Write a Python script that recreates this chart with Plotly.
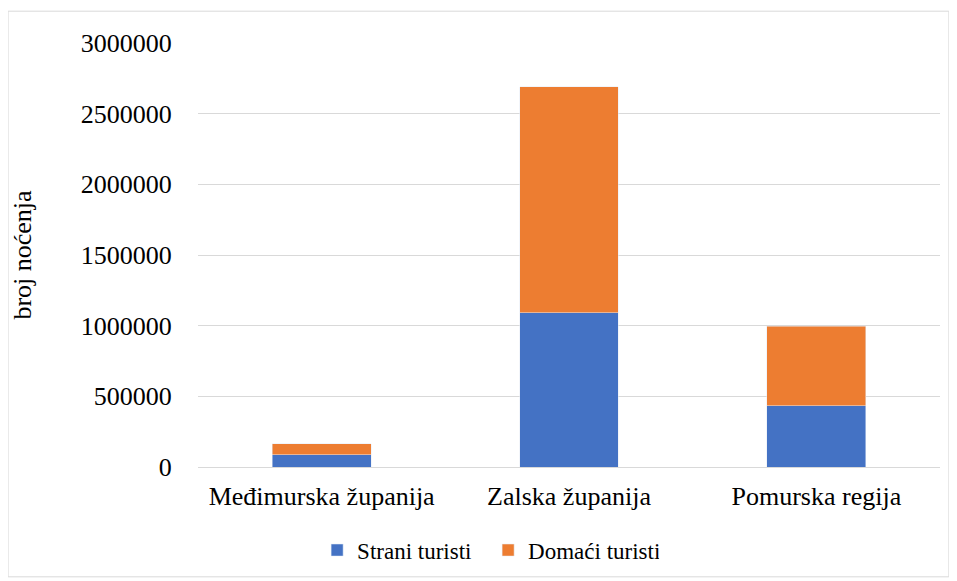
import plotly.graph_objects as go

categories = ["Međimurska županija", "Zalska županija", "Pomurska regija"]
strani = [85000, 1090000, 434000]
domaci = [80000, 1600000, 561000]
y_ticks = [0, 500000, 1000000, 1500000, 2000000, 2500000, 3000000]

SERIF = "Liberation Serif"

fig = go.Figure()
fig.add_trace(go.Bar(x=categories, y=strani, name="Strani turisti", marker_color="#4472C4"))
fig.add_trace(go.Bar(x=categories, y=domaci, name="Domaći turisti", marker_color="#ED7D31"))

font = dict(family=SERIF, size=26, color="#000000")
fig.update_layout(
    barmode="stack",
    bargap=0.6,
    width=949, height=573,
    paper_bgcolor="white", plot_bgcolor="white",
    font=font,
    margin=dict(l=190, r=17, t=35, b=114, autoexpand=False),
    legend=dict(orientation="h", x=0.391, xanchor="center", y=-0.196, yanchor="middle",
                traceorder="normal", itemwidth=30, entrywidth=126),
    legend_font_family=SERIF,
    legend_font_size=23,
    legend_font_color="#000000",
    showlegend=True,
    shapes=[dict(type="rect", xref="paper", yref="paper", x0=-0.256, x1=1.012, y0=-0.259, y1=1.075,
                 line=dict(color="#D9D9D9", width=1))],
)
fig.update_yaxes(range=[0, 3000000], tickvals=y_ticks, ticktext=[str(v) for v in y_ticks],
                 showgrid=True, gridcolor="#D9D9D9", gridwidth=1, zeroline=False,
                 showline=False, ticks="outside", ticklen=20, tickcolor="rgba(0,0,0,0)",
                 tickfont=font, automargin=False,
                 title=dict(text="broj noćenja", font=font, standoff=45))
fig.update_xaxes(showline=True, linecolor="#D9D9D9", ticks="outside", ticklen=6,
                 tickcolor="rgba(0,0,0,0)", showgrid=False, tickfont=font, automargin=False)
fig.write_html("out.html")
